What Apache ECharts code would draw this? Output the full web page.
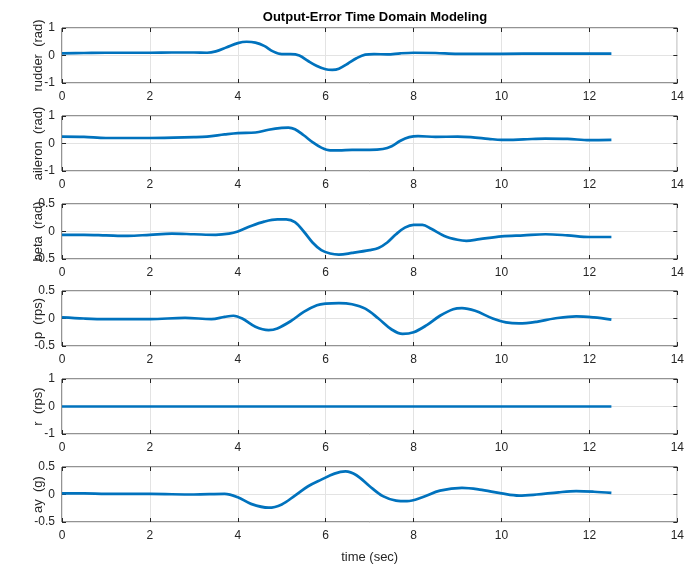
<!DOCTYPE html>
<html>
<head>
<meta charset="utf-8">
<script src="https://cdn.jsdelivr.net/npm/echarts@6/dist/echarts.min.js"></script>
<style>
  html, body { margin: 0; padding: 0; background: #fff; }
  #chart { width: 687px; height: 566px; }
</style>
</head>
<body>
<div id="chart"></div>
<script>
// Sampled time histories (sec) and measured responses
const tRudder = [0, 0.5, 1, 1.5, 2, 2.5, 3, 3.3, 3.5, 3.75, 4, 4.2, 4.4, 4.6, 4.8, 5.0, 5.2, 5.4, 5.6, 5.8, 6.0, 6.15, 6.3, 6.5, 6.7, 6.9, 7.1, 7.4, 7.7, 8, 8.5, 9, 9.5, 10, 11, 12, 12.5];
const rudder  = [0.08, 0.09, 0.1, 0.1, 0.1, 0.11, 0.11, 0.1, 0.15, 0.3, 0.45, 0.5, 0.47, 0.35, 0.15, 0.05, 0.05, 0.0, -0.2, -0.38, -0.5, -0.52, -0.48, -0.3, -0.1, 0.03, 0.05, 0.04, 0.08, 0.1, 0.09, 0.06, 0.06, 0.06, 0.07, 0.07, 0.07];

const tAileron = [0, 0.5, 1, 2, 3, 3.3, 3.7, 4, 4.4, 4.7, 5.0, 5.15, 5.3, 5.5, 5.7, 5.9, 6.1, 6.3, 6.6, 7, 7.3, 7.5, 7.7, 7.9, 8.1, 8.5, 9, 9.3, 9.7, 10, 10.5, 11, 11.5, 12, 12.5];
const aileron  = [0.25, 0.24, 0.2, 0.2, 0.23, 0.25, 0.33, 0.38, 0.4, 0.5, 0.57, 0.58, 0.52, 0.3, 0.05, -0.15, -0.25, -0.25, -0.23, -0.23, -0.2, -0.1, 0.1, 0.23, 0.27, 0.24, 0.25, 0.23, 0.17, 0.13, 0.15, 0.18, 0.17, 0.12, 0.13];

const tBeta = [0, 0.5, 1, 1.5, 2, 2.5, 3, 3.5, 3.8, 4, 4.3, 4.6, 4.9, 5.1, 5.3, 5.5, 5.7, 5.9, 6.1, 6.3, 6.6, 7, 7.2, 7.4, 7.6, 7.8, 8.0, 8.2, 8.4, 8.7, 9.0, 9.2, 9.5, 10, 10.5, 11, 11.5, 12, 12.5];
const beta  = [-0.06, -0.06, -0.07, -0.08, -0.06, -0.04, -0.05, -0.06, -0.04, 0.0, 0.1, 0.18, 0.22, 0.22, 0.17, 0.0, -0.2, -0.34, -0.4, -0.42, -0.39, -0.34, -0.3, -0.2, -0.05, 0.07, 0.12, 0.12, 0.05, -0.08, -0.15, -0.17, -0.14, -0.09, -0.07, -0.05, -0.07, -0.1, -0.1];

const tP = [0, 0.5, 1, 2, 2.8, 3.4, 3.7, 3.9, 4.1, 4.4, 4.7, 4.9, 5.2, 5.5, 5.8, 6.0, 6.3, 6.6, 6.9, 7.2, 7.5, 7.75, 8.0, 8.3, 8.6, 8.9, 9.1, 9.4, 9.8, 10.1, 10.4, 10.8, 11.2, 11.7, 12.1, 12.5];
const p  = [0.02, 0.0, -0.01, -0.01, 0.01, -0.01, 0.03, 0.05, 0.0, -0.15, -0.21, -0.18, -0.05, 0.12, 0.24, 0.27, 0.28, 0.26, 0.18, 0.0, -0.2, -0.28, -0.25, -0.12, 0.05, 0.17, 0.19, 0.14, 0.0, -0.07, -0.09, -0.06, 0.0, 0.04, 0.02, -0.02];

const tR = [0, 12.5];
const r  = [0, 0];

const tAy = [0, 0.5, 1, 2, 3, 3.7, 4.0, 4.3, 4.7, 5.0, 5.3, 5.6, 5.9, 6.2, 6.45, 6.7, 7.0, 7.3, 7.6, 7.85, 8.2, 8.6, 9.1, 9.5, 10, 10.4, 10.8, 11.3, 11.7, 12.1, 12.5];
const ay  = [0.02, 0.02, 0.01, 0.01, 0.0, 0.01, -0.05, -0.17, -0.24, -0.18, -0.02, 0.15, 0.27, 0.38, 0.42, 0.35, 0.15, -0.03, -0.11, -0.12, -0.05, 0.07, 0.12, 0.09, 0.02, -0.02, 0.0, 0.04, 0.06, 0.05, 0.03];

// Axis labels and limits for each subplot
const yNames = ['rudder  (rad)', 'aileron  (rad)', 'beta  (rad)', 'p  (rps)', 'r  (rps)', 'ay  (g)'];
const yLimits = [[-1, 1, 1], [-1, 1, 1], [-0.5, 0.5, 0.5], [-0.5, 0.5, 0.5], [-1, 1, 1], [-0.5, 0.5, 0.5]];
const xTicks = [0, 2, 4, 6, 8, 10, 12, 14];
const titleText = 'Output-Error Time Domain Modeling';
const xName = 'time (sec)';

const times = [tRudder, tAileron, tBeta, tP, tR, tAy];
const values = [rudder, aileron, beta, p, r, ay];

const FONT = 'Liberation Sans, Arial, Helvetica, sans-serif';
const TXT = '#262626';
const lineColor = '#0072BD';
const tops = [28, 116, 204, 291, 379, 467];
const plotH = 55;

const grids = [], xAxes = [], yAxes = [], series = [];
for (let i = 0; i < 6; i++) {
  grids.push({ left: 62, right: 8, top: tops[i], height: plotH, show: true, borderColor: TXT, borderWidth: 1, backgroundColor: '#fff' });
  const tick = { show: true, inside: true, length: 4, lineStyle: { color: TXT } };
  const xBase = {
    gridIndex: i, type: 'value', min: xTicks[0], max: xTicks[xTicks.length - 1], interval: 2,
    axisLine: { show: false, onZero: false }
  };
  xAxes.push(Object.assign({}, xBase, {
    position: 'bottom',
    axisTick: tick,
    axisLabel: { show: true, color: TXT, fontSize: 12, fontFamily: FONT, margin: 8 },
    splitLine: { show: true, lineStyle: { color: '#e3e3e3', width: 1 } },
    name: i === 5 ? xName : '', nameLocation: 'middle', nameGap: 29, nameMoveOverlap: false,
    nameTextStyle: { color: TXT, fontSize: 13, fontFamily: FONT }
  }));
  xAxes.push(Object.assign({}, xBase, {
    position: 'top',
    axisTick: tick,
    axisLabel: { show: false }, splitLine: { show: false }
  }));
  const [ymin, ymax, yint] = yLimits[i];
  const yBase = { gridIndex: i, type: 'value', min: ymin, max: ymax, interval: yint, axisLine: { show: false, onZero: false } };
  yAxes.push(Object.assign({}, yBase, {
    position: 'left',
    axisTick: tick,
    axisLabel: { show: true, color: TXT, fontSize: 12, fontFamily: FONT, margin: 7 },
    splitLine: { show: true, lineStyle: { color: '#e3e3e3', width: 1 } },
    name: yNames[i], nameLocation: 'middle', nameGap: 17, nameRotate: 90, nameMoveOverlap: false,
    nameTextStyle: { color: TXT, fontSize: 13, fontFamily: FONT }
  }));
  yAxes.push(Object.assign({}, yBase, {
    position: 'right',
    axisTick: tick,
    axisLabel: { show: false }, splitLine: { show: false }
  }));
  series.push({
    type: 'line', xAxisIndex: 2 * i, yAxisIndex: 2 * i,
    data: times[i].map((t, k) => [t, values[i][k]]),
    smooth: 0.35, showSymbol: false, symbol: 'none',
    lineStyle: { color: lineColor, width: 2.7 }
  });
}

const chart = echarts.init(document.getElementById('chart'), null, { renderer: 'canvas' });
chart.setOption({
  animation: false,
  backgroundColor: '#fff',
  title: {
    text: titleText, left: 370, top: 6, textAlign: 'center',
    textStyle: { color: '#000', fontSize: 13, fontWeight: 'bold', fontFamily: FONT }
  },
  grid: grids, xAxis: xAxes, yAxis: yAxes, series: series
});
</script>
</body>
</html>
